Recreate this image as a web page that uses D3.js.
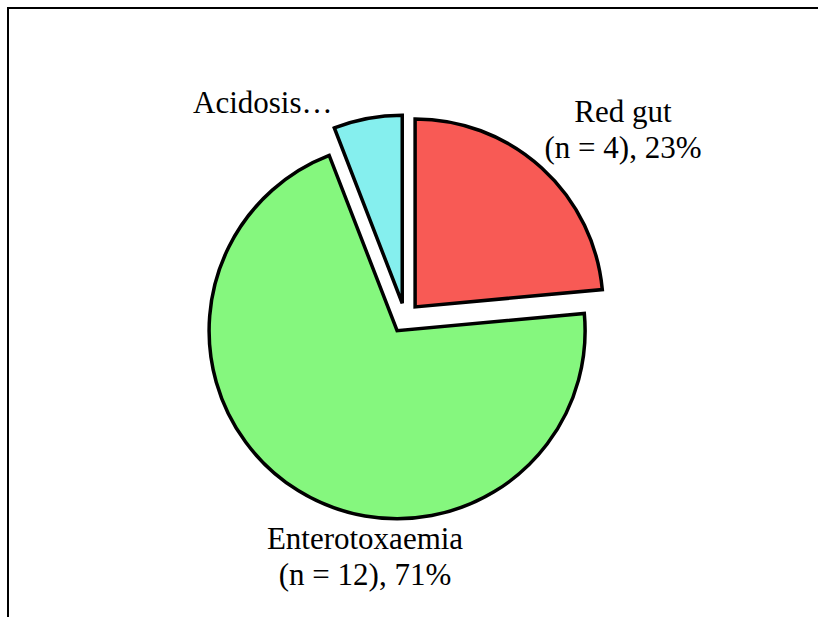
<!DOCTYPE html>
<html>
<head>
<meta charset="utf-8">
<script src="https://cdn.jsdelivr.net/npm/d3@7"></script>
<style>
  html, body { margin: 0; padding: 0; background: #fff; }
  svg { display: block; }
  .lbl { font-family: "Liberation Serif", "DejaVu Serif", serif; font-size: 31px; }
</style>
</head>
<body>
<svg id="chart" width="818" height="617"></svg>
<script>
const categories = ["Red gut", "Enterotoxaemia", "Acidosis"];
const counts = [4, 12, 1];
const percents = [23, 71, 6];
const shownLabels = [
  ["Red gut", "(n = 4), 23%"],
  ["Enterotoxaemia", "(n = 12), 71%"],
  ["Acidosis\u2026"]
];
const colors = ["#F85A55", "#85F77E", "#85EFEE"];

const W = 818, H = 617;
const cx = 405, cy = 318, R = 188, explode = 15;
const labelPos = [
  {dx: 218, dy: -196, anchor: "middle"},
  {dx: -40, dy: 231, anchor: "middle"},
  {dx: -212, dy: -205, anchor: "start"}
];

const svg = d3.select("#chart");

svg.append("line").attr("x1", 7).attr("y1", 8).attr("x2", W).attr("y2", 8)
  .attr("stroke", "#000").attr("stroke-width", 2);
svg.append("line").attr("x1", 8).attr("y1", 7).attr("x2", 8).attr("y2", H)
  .attr("stroke", "#000").attr("stroke-width", 2);

const pie = d3.pie().sort(null).value(d => d)(counts);
const arc = d3.arc().innerRadius(0).outerRadius(R);

const g = svg.append("g").attr("transform", `translate(${cx},${cy})`);

g.selectAll("path.slice").data(pie).join("path")
  .attr("class", "slice")
  .attr("transform", d => {
    const a = (d.startAngle + d.endAngle) / 2;
    return `translate(${explode * Math.sin(a)},${-explode * Math.cos(a)})`;
  })
  .attr("d", arc)
  .attr("fill", (d, i) => colors[i])
  .attr("stroke", "#000")
  .attr("stroke-width", 3.5)
  .attr("stroke-linejoin", "miter");

const labels = g.selectAll("text.lbl").data(pie).join("text")
  .attr("class", "lbl")
  .attr("fill", "#000")
  .attr("text-anchor", (d, i) => labelPos[i].anchor)
  .attr("transform", (d, i) => `translate(${labelPos[i].dx},${labelPos[i].dy})`);

labels.each(function(d, i) {
  const t = d3.select(this);
  shownLabels[i].forEach((line, j) => {
    t.append("tspan").attr("x", 0).attr("dy", j === 0 ? 0 : 36).text(line);
  });
});
</script>
</body>
</html>
